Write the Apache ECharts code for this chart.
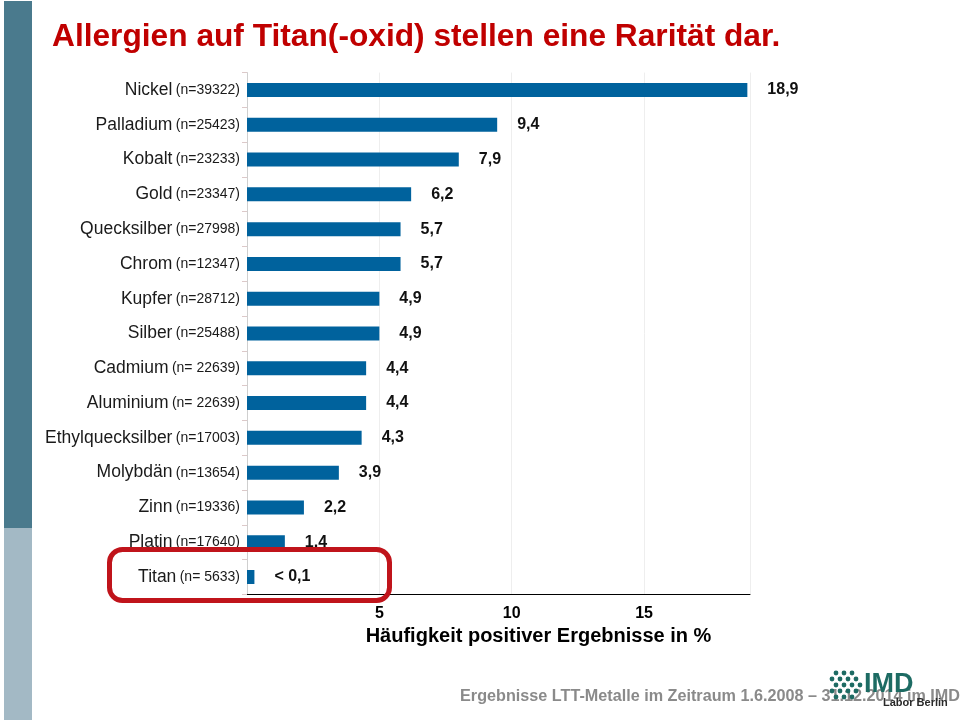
<!DOCTYPE html>
<html>
<head>
<meta charset="utf-8">
<script src="https://cdn.jsdelivr.net/npm/echarts@6/dist/echarts.min.js"></script>
<style>
  html, body { margin: 0; padding: 0; background: #ffffff; }
  #chart { width: 960px; height: 724px; }
</style>
</head>
<body>
<div id="chart"></div>
<script>
// ---- data ----
const categories = ['Nickel', 'Palladium', 'Kobalt', 'Gold', 'Quecksilber', 'Chrom', 'Kupfer', 'Silber',
  'Cadmium', 'Aluminium', 'Ethylquecksilber', 'Molybdän', 'Zinn', 'Platin', 'Titan'];
const sampleSizes = ['n=39322', 'n=25423', 'n=23233', 'n=23347', 'n=27998', 'n=12347', 'n=28712', 'n=25488',
  'n= 22639', 'n= 22639', 'n=17003', 'n=13654', 'n=19336', 'n=17640', 'n= 5633'];
// bar lengths as drawn in the picture (%)
const values = [18.9, 9.45, 8.0, 6.2, 5.8, 5.8, 5.0, 5.0, 4.5, 4.5, 4.33, 3.47, 2.15, 1.43, 0.28];
// value labels as printed in the picture
const valueLabels = ['18,9', '9,4', '7,9', '6,2', '5,7', '5,7', '4,9', '4,9', '4,4', '4,4', '4,3', '3,9', '2,2', '1,4', '< 0,1'];
const xTicks = [5, 10, 15];

const FONT = '"Liberation Sans", Arial, Helvetica, sans-serif';

// logo dots pattern (rows of dots)
const logoRows = [3, 4, 4, 4, 3];

const chart = echarts.init(document.getElementById('chart'), null, { renderer: 'canvas' });

const logoDots = [];
logoRows.forEach((count, r) => {
  for (let i = 0; i < count; i++) {
    const offset = (r % 2 === 0) ? 4 : 0;
    logoDots.push({
      type: 'circle',
      shape: { cx: 832 + offset + i * 8, cy: 673 + r * 6, r: 2.4 },
      style: { fill: '#1d6b63' },
      z: 5
    });
  }
});

const option = {
  backgroundColor: '#ffffff',
  animation: false,
  textStyle: { fontFamily: FONT },
  title: {
    text: 'Allergien auf Titan(-oxid) stellen eine Rarität dar.',
    left: 47,
    top: 16,
    textStyle: { fontSize: 31.7, fontWeight: 'bold', color: '#c00000', fontFamily: FONT }
  },
  grid: { left: 247, right: 210, top: 72.6, bottom: 129.6, containLabel: false },
  xAxis: {
    type: 'value',
    min: 0,
    max: 19,
    interval: 5,
    axisLine: { show: true, lineStyle: { color: '#000000', width: 1 } },
    axisTick: { show: false },
    splitLine: { show: true, lineStyle: { color: '#eeeeee', width: 1 } },
    axisLabel: {
      margin: 11,
      fontSize: 16,
      fontWeight: 'bold',
      color: '#000000',
      fontFamily: FONT,
      formatter: v => (xTicks.indexOf(v) >= 0 ? String(v) : '')
    },
    name: 'Häufigkeit positiver Ergebnisse in %',
    nameLocation: 'middle',
    nameGap: 32,
    nameTextStyle: { fontSize: 20, fontWeight: 'bold', color: '#000000', fontFamily: FONT, padding: [0, 0, 0, 80] }
  },
  yAxis: {
    type: 'category',
    inverse: true,
    data: categories,
    axisLine: { show: true, lineStyle: { color: '#cfcfcf', width: 1 } },
    axisTick: { show: true, length: 5, lineStyle: { color: '#dcc9c9' } },
    axisLabel: {
      margin: 7,
      color: '#1a1a1a',
      fontFamily: FONT,
      formatter: (v, i) => '{a|' + v + '} {b|(' + sampleSizes[i] + ')}',
      rich: {
        a: { fontSize: 17.5, color: '#1a1a1a', fontFamily: FONT },
        b: { fontSize: 14, color: '#1a1a1a', fontFamily: FONT }
      }
    }
  },
  series: [{
    type: 'bar',
    data: values,
    barWidth: 14,
    itemStyle: { color: '#00629d' },
    label: {
      show: true,
      position: 'right',
      distance: 20,
      offset: [0, 0],
      fontSize: 16,
      fontWeight: 'bold',
      color: '#111111',
      fontFamily: FONT,
      formatter: p => valueLabels[p.dataIndex]
    }
  }],
  graphic: [
    { type: 'rect', shape: { x: 4, y: 1, width: 28, height: 527 }, style: { fill: '#4a7a8d' }, z: 1 },
    { type: 'rect', shape: { x: 4, y: 528, width: 28, height: 192 }, style: { fill: '#a3b9c5' }, z: 1 },
    {
      type: 'rect',
      shape: { x: 109.5, y: 549.5, width: 280, height: 51, r: 13 },
      style: { fill: 'none', stroke: '#c0141b', lineWidth: 5 },
      z: 10
    },
    {
      type: 'text',
      x: 960, y: 697,
      style: {
        text: 'Ergebnisse LTT-Metalle im Zeitraum 1.6.2008 – 31.12.2014 im IMD',
        fontSize: 16.2, fontWeight: 'bold', fill: '#8a8a8a', fontFamily: FONT,
        align: 'right', verticalAlign: 'middle'
      },
      z: 4
    },
    ...logoDots,
    {
      type: 'text',
      x: 864, y: 685,
      style: { text: 'IMD', fontSize: 27, fontWeight: 'bold', fill: '#1d6b63', fontFamily: FONT, verticalAlign: 'middle' },
      z: 5
    },
    {
      type: 'text',
      x: 883, y: 703,
      style: { text: 'Labor Berlin', fontSize: 11, fontWeight: 'bold', fill: '#2a2a2a', fontFamily: FONT, verticalAlign: 'middle' },
      z: 5
    }
  ]
};

chart.setOption(option);
</script>
</body>
</html>
